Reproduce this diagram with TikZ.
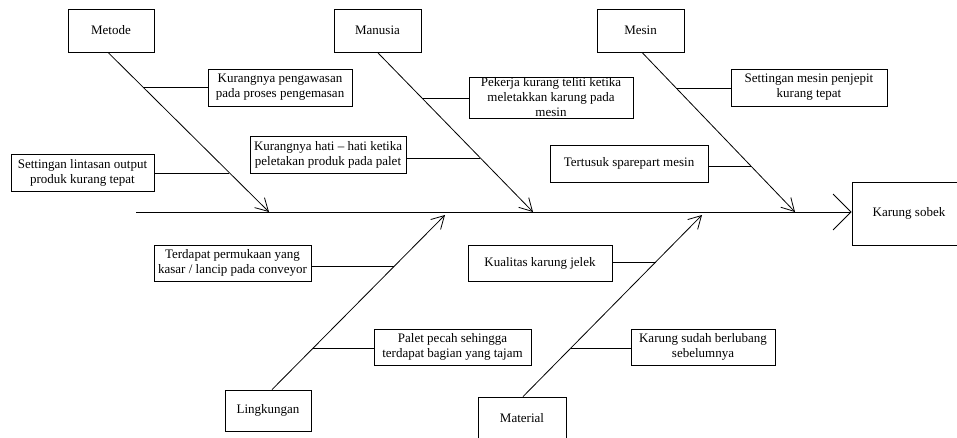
\documentclass[tikz,border=0pt]{standalone}
\usepackage{fontspec}
\setmainfont{Liberation Serif}
\usetikzlibrary{arrows.meta}

\begin{document}
\begin{tikzpicture}[x=1pt,y=-1pt,font=\fontsize{13}{15}\selectfont,line width=0.8pt,
  box/.style={draw,align=center,inner sep=0pt},
  bone/.style={-{Straight Barb[length=12.5pt,width=14pt]}}]
 \useasboundingbox (0,0) rectangle (957,437);
 \clip (0,0) rectangle (957,437);
 % head and spine
 \node[box,minimum width=114pt,minimum height=63pt] (sobek) at (909,213.5) {Karung sobek};
 \coordinate (s0) at (136,212);
 \draw[-{Straight Barb[length=18pt,width=36pt]}] (s0) -- (s0 -| sobek.west);
 % categories
 \node[box,minimum width=86pt,minimum height=43pt] (metode) at (111,30.5) {Metode};
 \node[box,minimum width=87pt,minimum height=43pt] (manusia) at (377.5,30.5) {Manusia};
 \node[box,minimum width=87pt,minimum height=43pt] (mesin) at (640.5,30.5) {Mesin};
 \node[box,minimum width=86pt,minimum height=41pt] (lingkungan) at (268,410.5) {Lingkungan};
 \node[box,minimum width=88pt,minimum height=43pt] (material) at (522,418.5) {Material};
 \coordinate (tmetode) at (269,212); \coordinate (tmanusia) at (533,212); \coordinate (tmesin) at (795,212);
 \coordinate (tling) at (445,215); \coordinate (tmat) at (702,215);
 \draw[bone] ([xshift=-3pt]metode.south) -- (tmetode);
 \draw[bone] (manusia.south) -- (tmanusia);
 \draw[bone] ([xshift=1.5pt]mesin.south) -- (tmesin);
 \draw[bone] ([xshift=4pt]lingkungan.north) -- (tling);
 \draw[bone] ([xshift=1pt]material.north) -- (tmat);
 % causes
 \node[box,minimum width=144pt,minimum height=37pt] (pengawasan) at (280,87.5) {Kurangnya pengawasan\\pada proses pengemasan};
 \node[box,minimum width=143pt,minimum height=37pt] (lintasan) at (82.5,172.5) {Settingan lintasan output\\produk kurang tepat};
 \node[box,minimum width=164pt,minimum height=41pt] (pekerja) at (551,97.5) {Pekerja kurang teliti ketika\\meletakkan karung pada\\mesin};
 \node[box,minimum width=156pt,minimum height=37pt] (hati) at (328,154.5) {Kurangnya hati – hati ketika\\peletakan produk pada palet};
 \node[box,minimum width=156pt,minimum height=37pt] (penjepit) at (809,87.5) {Settingan mesin penjepit\\kurang tepat};
 \node[box,minimum width=158pt,minimum height=37pt] (sparepart) at (629,163.5) {Tertusuk sparepart mesin};
 \node[box,minimum width=157pt,minimum height=36pt] (conveyor) at (232.5,263) {Terdapat permukaan yang\\kasar / lancip pada conveyor};
 \node[box,minimum width=157pt,minimum height=36pt] (palet) at (452.5,347) {Palet pecah sehingga\\terdapat bagian yang tajam};
 \node[box,minimum width=144pt,minimum height=36pt] (kualitas) at (540,263) {Kualitas karung jelek};
 \node[box,minimum width=144pt,minimum height=36pt] (berlubang) at (703,347) {Karung sudah berlubang\\sebelumnya};
 % joints on the bones
 \coordinate (j1) at (143,87); \coordinate (j2) at (229,173);
 \coordinate (j3) at (422,98); \coordinate (j4) at (480,158);
 \coordinate (j5) at (676,88); \coordinate (j6) at (751,166);
 \coordinate (j7) at (394,266); \coordinate (j8) at (313,348);
 \coordinate (j9) at (656,262); \coordinate (j10) at (571,348);
 \draw (pengawasan.west |- j1) -- (j1);
 \draw (lintasan.east |- j2) -- (j2);
 \draw (pekerja.west |- j3) -- (j3);
 \draw (hati.east |- j4) -- (j4);
 \draw (penjepit.west |- j5) -- (j5);
 \draw (sparepart.east |- j6) -- (j6);
 \draw (conveyor.east |- j7) -- (j7);
 \draw (palet.west |- j8) -- (j8);
 \draw (kualitas.east |- j9) -- (j9);
 \draw (berlubang.west |- j10) -- (j10);
\end{tikzpicture}
\end{document}
